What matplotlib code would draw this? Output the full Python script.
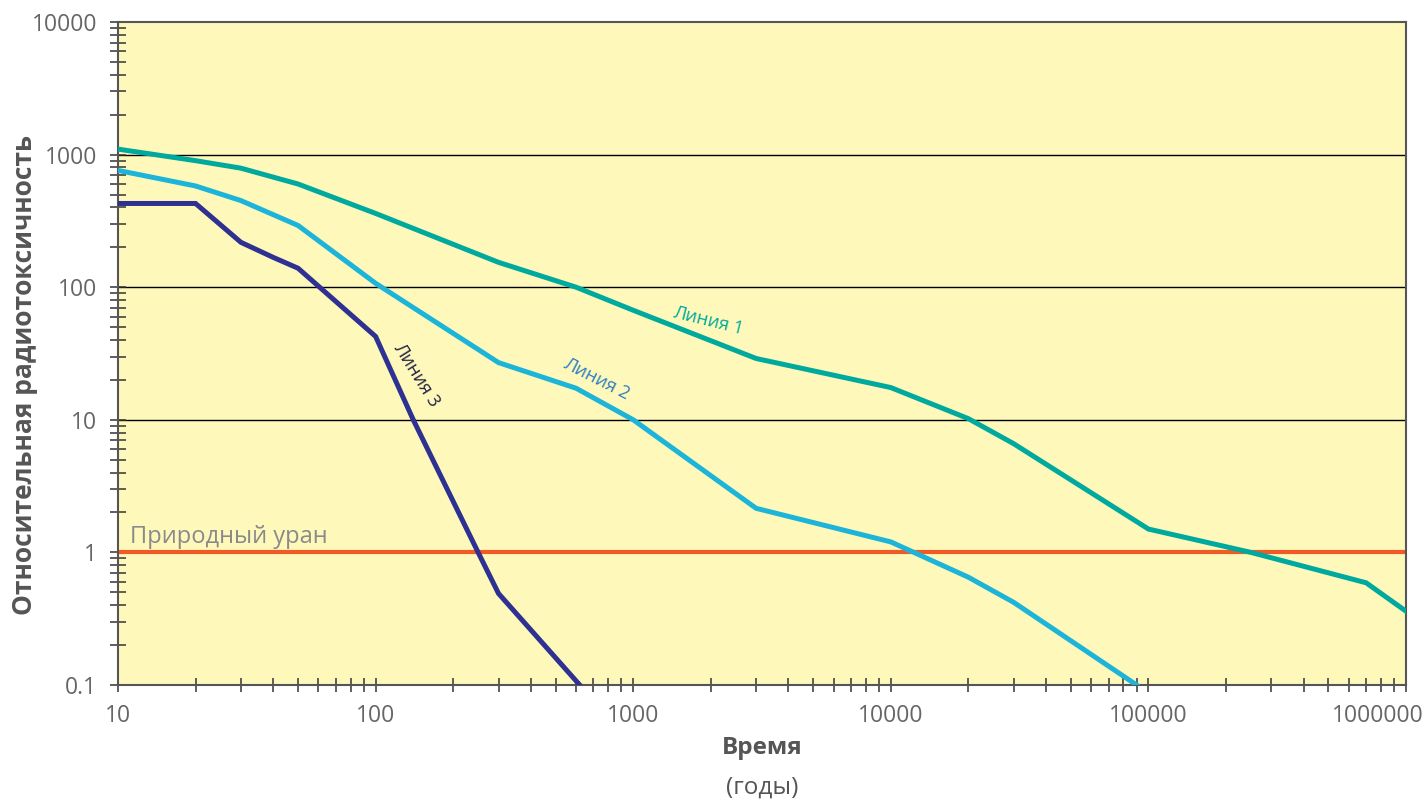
import matplotlib
matplotlib.use("Agg")
import matplotlib.pyplot as plt
import matplotlib.transforms as mtransforms
from matplotlib.ticker import LogLocator, FixedLocator, FixedFormatter, NullFormatter

# Data
line1_x = [10, 20, 30, 50, 100, 300, 600, 1000, 3000, 10000, 20000, 30000, 100000, 250000, 700000, 1000000]
line1_y = [1100, 900, 790, 600, 360, 154, 100, 67, 29, 17.5, 10.2, 6.6, 1.5, 1.0, 0.59, 0.36]

line2_x = [10, 20, 30, 50, 100, 300, 600, 1000, 3000, 10000, 20000, 30000, 90000]
line2_y = [760, 580, 450, 292, 107, 27, 17.3, 10, 2.15, 1.2, 0.65, 0.42, 0.1]

line3_x = [10, 20, 30, 40, 50, 100, 140, 250, 300, 620]
line3_y = [428, 428, 218, 168, 139, 42.5, 10, 1.0, 0.49, 0.1]

uranium_level = 1.0

x_ticks = [10, 100, 1000, 10000, 100000, 1000000]
x_labels = ["10", "100", "1000", "10000", "100000", "1000000"]
y_ticks = [0.1, 1, 10, 100, 1000, 10000]
y_labels = ["0.1", "1", "10", "100", "1000", "10000"]

plt.rcParams['font.family'] = ['Open Sans', 'DejaVu Sans']

fig = plt.figure(figsize=(14.27, 8), dpi=100)
ax = fig.add_axes([0.0827, 0.14375, 0.9026, 0.82875])
ax.set_facecolor('#fef9bb')
ax.set_xscale('log')
ax.set_yscale('log')
ax.set_xlim(10, 1e6)
ax.set_ylim(0.1, 10000)

for yv in [10, 100, 1000]:
    ax.axhline(yv, color='black', lw=1.0, zorder=1)

ax.axhline(uranium_level, color='#f15a24', lw=3.0, zorder=2)
ax.plot(line1_x, line1_y, color='#00a99d', lw=3.6, zorder=3, solid_joinstyle='miter')
ax.plot(line2_x, line2_y, color='#1cb4d9', lw=3.6, zorder=3, solid_joinstyle='miter')
ax.plot(line3_x, line3_y, color='#2e3192', lw=3.6, zorder=3, solid_joinstyle='miter')

ax.text(11.1, 1.30, "Природный уран", color='#8a8a8a', fontsize=17, va='center', ha='left')
ax.text(1950, 56, "Линия 1", color='#00a99d', fontsize=13, rotation=-14, ha='center', va='center')
ax.text(718, 20.5, "Линия 2", color='#2e7fc1', fontsize=13, rotation=-27, ha='center', va='center')
ax.text(144, 22, "Линия 3", color='#222244', fontsize=13, rotation=-58, ha='center', va='center')

ax.xaxis.set_major_locator(FixedLocator(x_ticks))
ax.xaxis.set_major_formatter(FixedFormatter(x_labels))
ax.yaxis.set_major_locator(FixedLocator(y_ticks))
ax.yaxis.set_major_formatter(FixedFormatter(y_labels))
ax.xaxis.set_minor_locator(LogLocator(base=10, subs=range(2, 10)))
ax.yaxis.set_minor_locator(LogLocator(base=10, subs=range(2, 10)))
ax.xaxis.set_minor_formatter(NullFormatter())
ax.yaxis.set_minor_formatter(NullFormatter())

ax.tick_params(axis='both', which='both', direction='inout', colors='#333333', labelcolor='#666666', labelsize=16.5)
ax.tick_params(axis='x', which='both', length=9.5, width=1.1, pad=9)
ax.tick_params(axis='y', which='both', length=12, width=1.1, pad=9)

fig.canvas.draw()
last = ax.get_xticklabels()[-1]
last.set_transform(last.get_transform() + mtransforms.ScaledTranslation(-0.28, 0, fig.dpi_scale_trans))

for s in ax.spines.values():
    s.set_color('#555555')
    s.set_linewidth(1.5)

fig.text(25 / 1427, 1 - 375 / 800, "Относительная радиотоксичность", rotation=90,
         ha='center', va='center', fontsize=19, fontweight='bold', color='#555555')
ax.text(0.5, -0.095, "Время", transform=ax.transAxes, ha='center', va='center',
        fontsize=17.5, fontweight='bold', color='#555555')
ax.text(0.5, -0.155, "(годы)", transform=ax.transAxes, ha='center', va='center',
        fontsize=17.5, color='#555555')

fig.savefig("out.png", dpi=100)
